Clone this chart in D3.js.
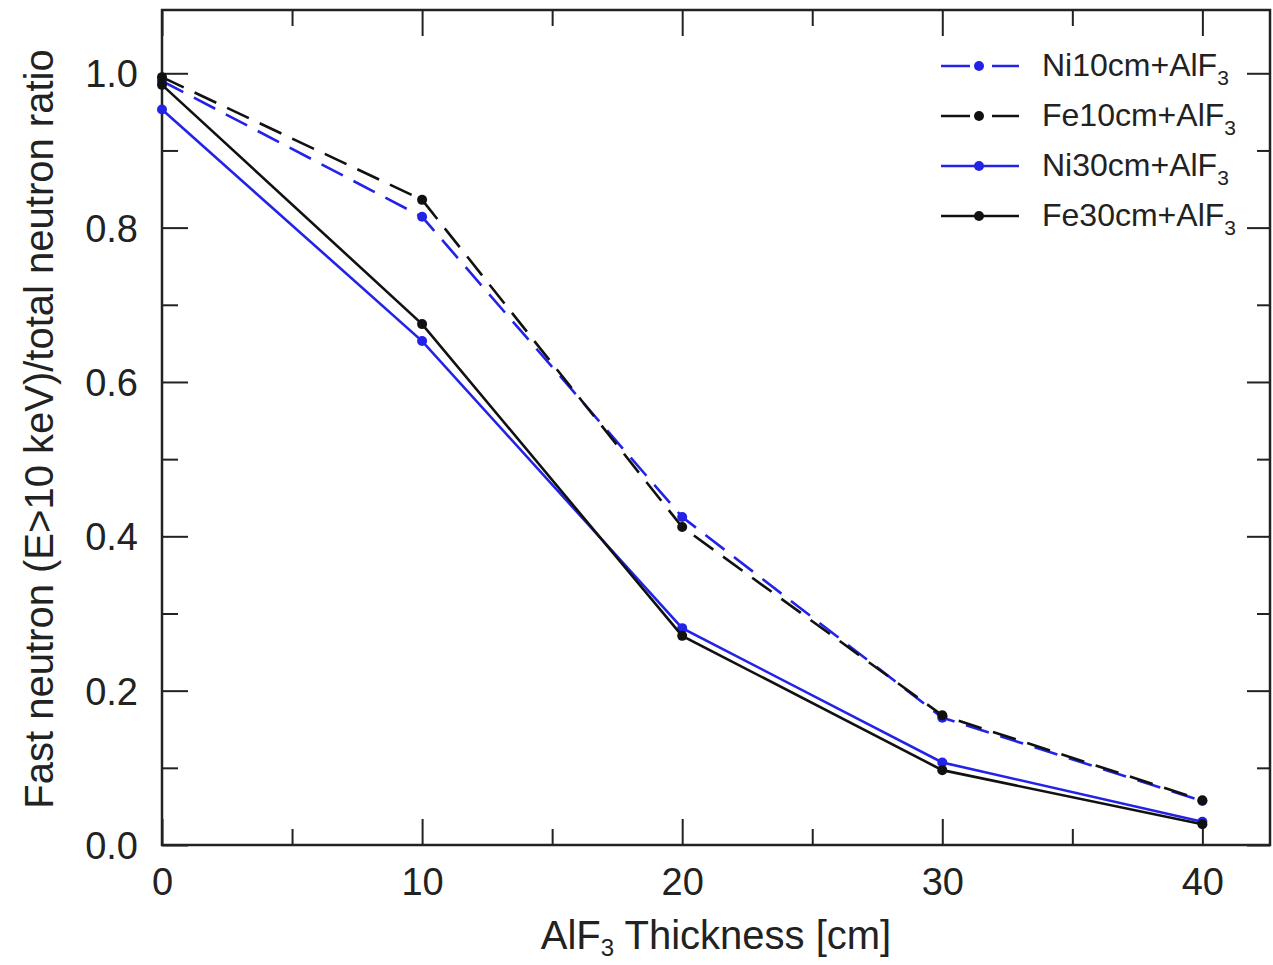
<!DOCTYPE html>
<html>
<head>
<meta charset="utf-8">
<script src="https://cdn.jsdelivr.net/npm/d3@7"></script>
<style>
body { margin: 0; background: #fff; }
text { font-family: "Liberation Sans", Arial, sans-serif; fill: #222; }
</style>
</head>
<body>
<div id="chart"></div>
<script>
// data
var thickness = [0, 10, 20, 30, 40];
var ni10 = [0.990, 0.814, 0.425, 0.165, 0.057];
var fe10 = [0.995, 0.836, 0.412, 0.168, 0.058];
var ni30 = [0.953, 0.653, 0.281, 0.107, 0.030];
var fe30 = [0.985, 0.675, 0.271, 0.097, 0.027];
var seriesNames = ["Ni10cm+AlF", "Fe10cm+AlF", "Ni30cm+AlF", "Fe30cm+AlF"];
var xTicks = [0, 10, 20, 30, 40];
var yTicks = [0.0, 0.2, 0.4, 0.6, 0.8, 1.0];

var blue = "#2323e8";
var black = "#111";

var series = [
	{name: seriesNames[0], values: ni10, color: blue, dash: "24,12"},
	{name: seriesNames[1], values: fe10, color: black, dash: "24,12"},
	{name: seriesNames[2], values: ni30, color: blue, dash: null},
	{name: seriesNames[3], values: fe30, color: black, dash: null}
];

var svgWidth = 1273;
var svgHeight = 965;
var margin = {top: 10, right: 3, bottom: 120, left: 162};
var width = svgWidth - margin.left - margin.right;
var height = svgHeight - margin.top - margin.bottom;

var svg = d3.select("#chart")
	.append("svg")
	.attr("width", svgWidth)
	.attr("height", svgHeight);

var chartGroup = svg.append("g")
	.attr("transform", `translate(${margin.left}, ${margin.top})`);

var xScale = d3.scaleLinear().domain([0, 42.6]).range([0, width]);
var yScale = d3.scaleLinear().domain([0, 1.082]).range([height, 0]);

var majorLen = 26, minorLen = 16;
var xMinor = d3.range(5, 42, 10);
var yMinor = d3.range(0.1, 1.08, 0.2);

// inward ticks on all four sides
function tickAxis(axisFn, scale, vals, len, fmt) {
	return axisFn(scale).tickValues(vals).tickSize(-len).tickFormat(fmt);
}

var bottom = chartGroup.append("g")
	.attr("transform", `translate(0, ${height})`)
	.call(tickAxis(d3.axisBottom, xScale, xTicks, majorLen, d3.format("d")));
chartGroup.append("g")
	.attr("transform", `translate(0, ${height})`)
	.call(tickAxis(d3.axisBottom, xScale, xMinor, minorLen, ""));
chartGroup.append("g")
	.call(tickAxis(d3.axisTop, xScale, xTicks, majorLen, ""));
chartGroup.append("g")
	.call(tickAxis(d3.axisTop, xScale, xMinor, minorLen, ""));

var left = chartGroup.append("g")
	.call(tickAxis(d3.axisLeft, yScale, yTicks, majorLen, d3.format(".1f")));
chartGroup.append("g")
	.call(tickAxis(d3.axisLeft, yScale, yMinor, minorLen, ""));
chartGroup.append("g")
	.attr("transform", `translate(${width}, 0)`)
	.call(tickAxis(d3.axisRight, yScale, yTicks, 23, ""));
chartGroup.append("g")
	.attr("transform", `translate(${width}, 0)`)
	.call(tickAxis(d3.axisRight, yScale, yMinor, 13, ""));

chartGroup.selectAll(".domain").remove();
chartGroup.selectAll(".tick line").attr("stroke", "#222").attr("stroke-width", 2);
chartGroup.selectAll(".tick text").attr("font-size", 38).attr("fill", "#222");
bottom.selectAll(".tick text").attr("y", 50).attr("dy", 0);
left.selectAll(".tick text").attr("x", -24).attr("dy", "0.36em");

// frame
chartGroup.append("rect")
	.attr("width", width)
	.attr("height", height)
	.attr("fill", "none")
	.attr("stroke", "#222")
	.attr("stroke-width", 2.5);

// lines and points
var line = d3.line()
	.x((d, i) => xScale(thickness[i]))
	.y(d => yScale(d));

series.forEach(s => {
	chartGroup.append("path")
		.datum(s.values)
		.attr("d", line)
		.attr("fill", "none")
		.attr("stroke", s.color)
		.attr("stroke-width", 2.6)
		.attr("stroke-dasharray", s.dash);
	chartGroup.selectAll(null)
		.data(s.values)
		.enter()
		.append("circle")
		.attr("cx", (d, i) => xScale(thickness[i]))
		.attr("cy", d => yScale(d))
		.attr("r", 5)
		.attr("fill", s.color);
});

// legend
var legend = svg.append("g").attr("transform", "translate(941, 66)");
series.forEach((s, i) => {
	var row = legend.append("g").attr("transform", `translate(0, ${i * 50})`);
	if (s.dash) {
		row.append("line").attr("x1", 0).attr("x2", 29).attr("stroke", s.color).attr("stroke-width", 2.5);
		row.append("line").attr("x1", 51).attr("x2", 78).attr("stroke", s.color).attr("stroke-width", 2.5);
	} else {
		row.append("line").attr("x1", 0).attr("x2", 78).attr("stroke", s.color).attr("stroke-width", 2.5);
	}
	row.append("circle").attr("cx", 38).attr("r", 5).attr("fill", s.color);
	var t = row.append("text")
		.attr("x", 101)
		.attr("y", 10)
		.attr("font-size", 32);
	t.append("tspan").text(s.name);
	t.append("tspan").attr("font-size", 21).attr("dy", 9).text("3");
});

// axis titles
var xt = svg.append("text")
	.attr("x", 716)
	.attr("y", 949)
	.attr("text-anchor", "middle")
	.attr("font-size", 40);
xt.append("tspan").text("AlF");
xt.append("tspan").attr("font-size", 24).attr("dy", 7).text("3");
xt.append("tspan").attr("dy", -7).text(" Thickness [cm]");

svg.append("text")
	.attr("transform", "translate(53, 429) rotate(-90)")
	.attr("text-anchor", "middle")
	.attr("font-size", 40)
	.text("Fast neutron (E>10 keV)/total neutron ratio");
</script>
</body>
</html>
